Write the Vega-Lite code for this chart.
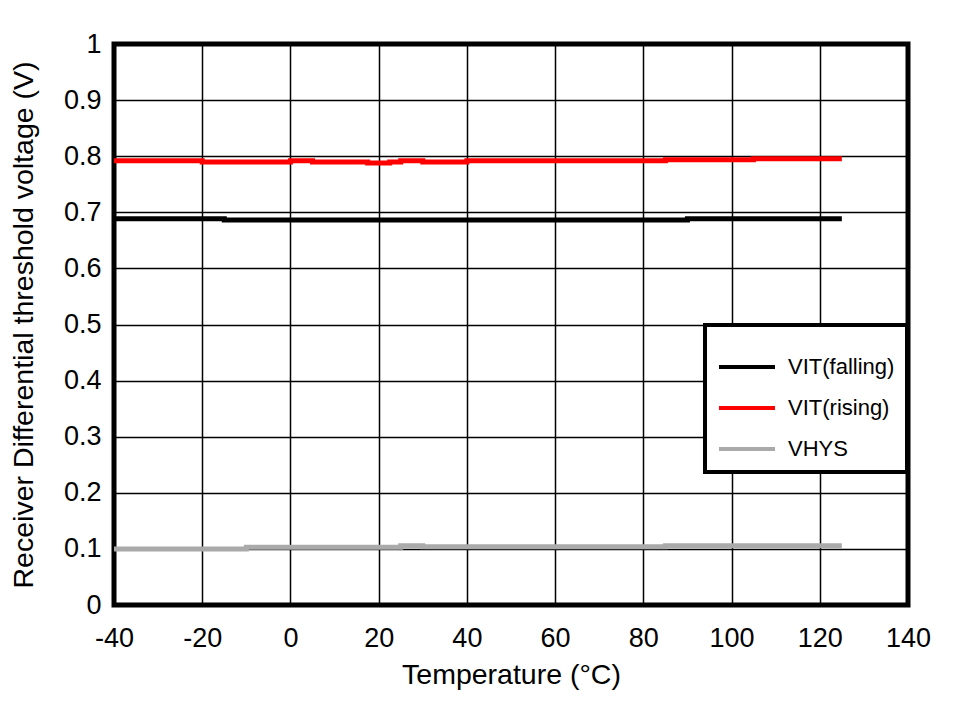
{
  "$schema": "https://vega.github.io/schema/vega-lite/v6.json",
  "width": 794,
  "height": 561,
  "autosize": {"type": "none"},
  "padding": {"left": 114, "top": 44, "right": 48, "bottom": 96},
  "background": "white",
  "config": {
    "font": "Liberation Sans",
    "view": {"stroke": "black", "strokeWidth": 5},
    "legend": {"strokeWidth": 4},
    "axis": {
      "domain": false,
      "ticks": false,
      "grid": true,
      "gridColor": "black",
      "gridWidth": 1.5,
      "gridOpacity": 1,
      "labelFont": "Liberation Sans",
      "labelFontSize": 27,
      "labelColor": "black",
      "labelFlush": false,
      "labelOverlap": false,
      "labelBound": false,
      "labelExpr": "'' + datum.value",
      "titleFont": "Liberation Sans",
      "titleFontWeight": "normal",
      "titleColor": "black"
    }
  },
  "data": {
    "values": [
      {"series": "VIT(falling)", "temp": -40, "v": 0.6886},
      {"series": "VIT(falling)", "temp": -15, "v": 0.6863},
      {"series": "VIT(falling)", "temp": 90, "v": 0.6886},
      {"series": "VIT(falling)", "temp": 125, "v": 0.6886},
      {"series": "VIT(rising)", "temp": -40, "v": 0.792},
      {"series": "VIT(rising)", "temp": -20, "v": 0.7897},
      {"series": "VIT(rising)", "temp": 0, "v": 0.792},
      {"series": "VIT(rising)", "temp": 5, "v": 0.7897},
      {"series": "VIT(rising)", "temp": 17.5, "v": 0.788},
      {"series": "VIT(rising)", "temp": 22.5, "v": 0.7897},
      {"series": "VIT(rising)", "temp": 25, "v": 0.792},
      {"series": "VIT(rising)", "temp": 30, "v": 0.7897},
      {"series": "VIT(rising)", "temp": 40, "v": 0.792},
      {"series": "VIT(rising)", "temp": 85, "v": 0.7938},
      {"series": "VIT(rising)", "temp": 105, "v": 0.7955},
      {"series": "VIT(rising)", "temp": 125, "v": 0.7955},
      {"series": "VHYS", "temp": -40, "v": 0.0998},
      {"series": "VHYS", "temp": -10, "v": 0.1028},
      {"series": "VHYS", "temp": 25, "v": 0.1057},
      {"series": "VHYS", "temp": 30, "v": 0.104},
      {"series": "VHYS", "temp": 85, "v": 0.1057},
      {"series": "VHYS", "temp": 125, "v": 0.1057}
    ]
  },
  "mark": {"type": "line", "interpolate": "step-after", "strokeWidth": 5, "clip": true},
  "encoding": {
    "x": {
      "field": "temp",
      "type": "quantitative",
      "title": "Temperature (°C)",
      "scale": {"domain": [-40, 140], "nice": false},
      "axis": {"values": [-40, -20, 0, 20, 40, 60, 80, 100, 120, 140], "labelPadding": 20, "titlePadding": 9, "titleFontSize": 28.5}
    },
    "y": {
      "field": "v",
      "type": "quantitative",
      "title": "Receiver Differential threshold voltage (V)",
      "scale": {"domain": [0, 1], "nice": false},
      "axis": {"values": [0, 0.1, 0.2, 0.3, 0.4, 0.5, 0.6, 0.7, 0.8, 0.9, 1], "labelPadding": 13, "titlePadding": 25, "titleFontSize": 28.5}
    },
    "color": {
      "field": "series",
      "type": "nominal",
      "scale": {"domain": ["VIT(falling)", "VIT(rising)", "VHYS"], "range": ["black", "#ff0000", "#aaaaaa"]},
      "legend": {
        "title": null,
        "orient": "none",
        "legendX": 591,
        "legendY": 281,
        "fillColor": "white",
        "strokeColor": "black",
        "padding": 12,
        "symbolType": "M-1,0H1",
        "symbolSize": 3136,
        "symbolStrokeWidth": 4,
        "symbolOpacity": 1,
        "labelFont": "Liberation Sans",
        "labelFontSize": 22,
        "labelColor": "black",
        "rowPadding": 0,
        "labelOffset": 11,
        "offset": 0
      }
    }
  }
}
